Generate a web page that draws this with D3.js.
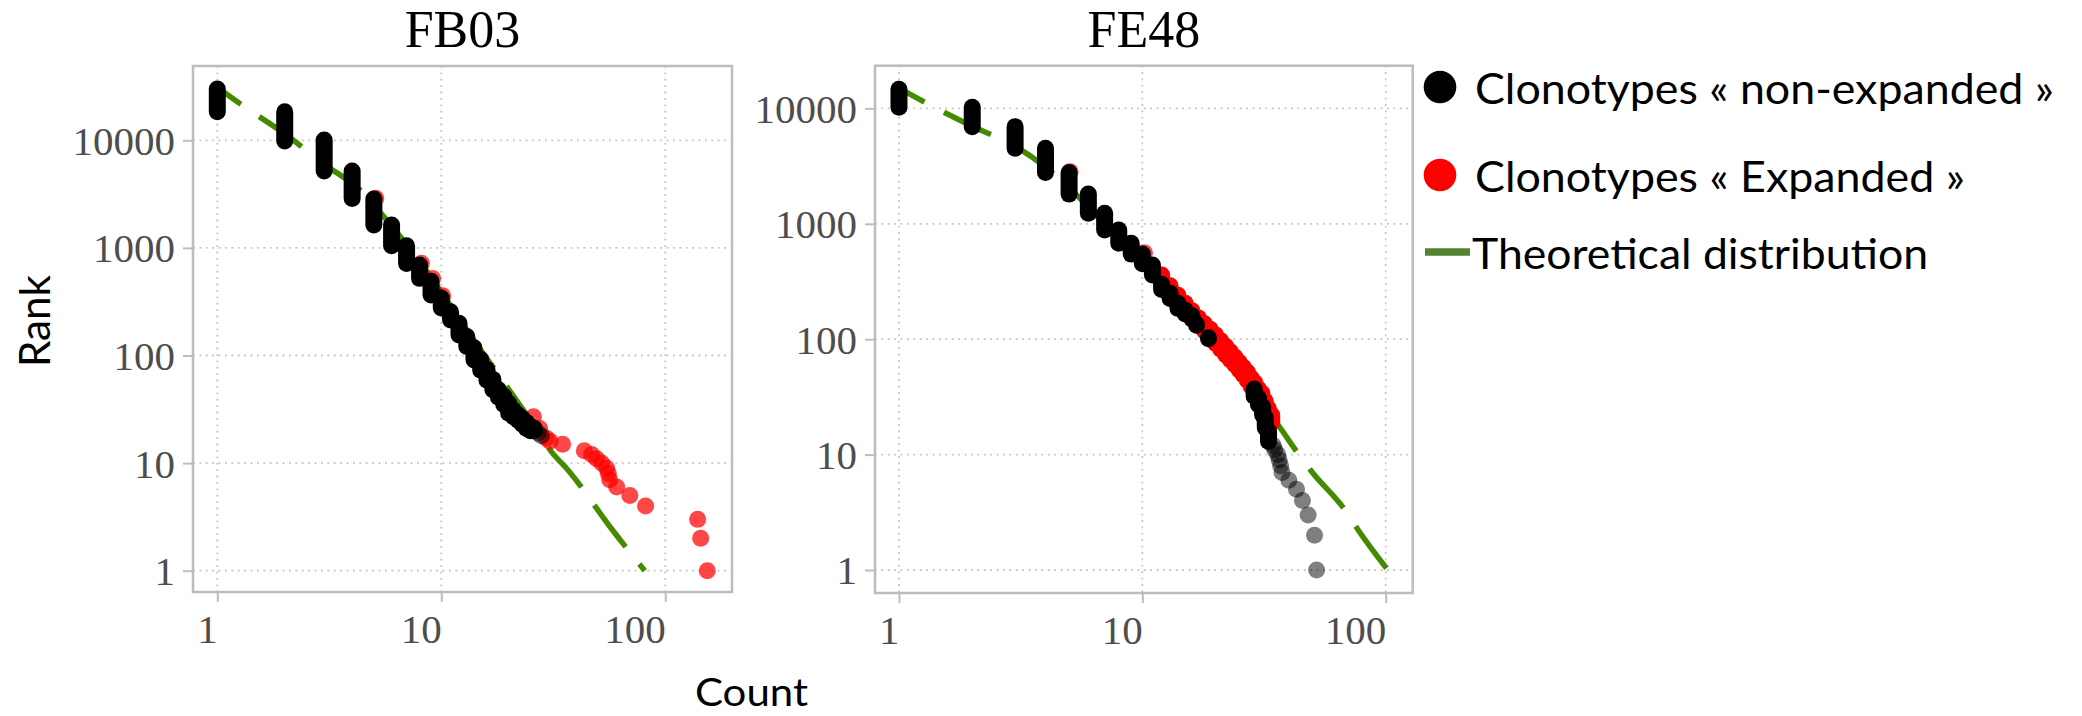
<!DOCTYPE html>
<html>
<head>
<meta charset="utf-8">
<script src="https://cdn.jsdelivr.net/npm/d3@7"></script>
<style>
  html, body { margin: 0; padding: 0; background: #ffffff; }
  svg { display: block; }
</style>
</head>
<body>
<svg id="chart" width="2082" height="716"></svg>
<script>
// ---------------- data ----------------
const panelTitles = ["FB03", "FE48"];
const xTickValues = [1, 10, 100];
const yTickValues = [1, 10, 100, 1000, 10000];
const legendLabels = ["Clonotypes « non-expanded »", "Clonotypes « Expanded »", "Theoretical distribution"];
const axisTitles = { x: "Count", y: "Rank" };

// Clonotype runs: [count, highest rank, lowest rank] (a single clonotype has both ranks equal)
const fb03NonExpanded = [
  [1, 30000, 18450], [2, 18450, 9840], [3, 10070, 5185], [4, 5185, 2880], [5, 2845, 1632],
  [6, 1632, 1048], [7, 1048, 718], [8, 693, 521], [9, 490, 365], [10, 342, 276],
  [11, 255, 214], [12, 199, 155], [13, 150, 121], [14, 118, 91], [15, 92, 73],
  [16, 74, 59], [17, 60, 48], [18, 48, 41], [19, 42, 35], [20, 36, 29],
  [21, 31, 27], [22, 28, 25], [23, 26, 23], [24, 24, 21], [25, 22, 20],
  [26, 21, 20], [27, 19, 19], [28, 18, 18]
];
const fb03Expanded = [
  [5.1, 2900, 2900], [8.15, 720, 720], [9.15, 520, 520], [10.15, 360, 360],
  [25.8, 27, 27], [27.5, 21, 21], [29.5, 17, 17], [30.6, 16, 16], [34.8, 15, 15],
  [43.5, 13, 13], [46.9, 12, 12], [49.4, 11, 11], [52, 10, 10], [54.7, 9, 9],
  [55.7, 8, 8], [56.5, 7, 7], [60.7, 6, 6], [69.5, 5, 5], [81.7, 4, 4],
  [139.5, 3, 3], [143.9, 2, 2], [154, 1, 1]
];
// Theoretical distribution: [count, rank]
const fb03Theory = [
  [1, 31000], [1.3, 21000], [2, 11500], [3, 6000], [4.3, 3500], [6, 1600], [8, 750],
  [10, 390], [14.3, 130], [18.3, 63], [25, 25], [31, 12.8], [37, 8.5], [58, 2.4], [81, 1]
];

const fe48NonExpanded = [
  [1, 14660, 10250], [2, 10250, 6950], [3, 6950, 4510], [4, 4510, 2785], [5, 2785, 1808],
  [6, 1808, 1236], [7, 1236, 884], [8, 884, 677], [9, 677, 546], [10, 546, 450],
  [11, 440, 360], [12, 300, 270], [13, 250, 225], [14, 205, 185], [15, 178, 165],
  [16, 160, 150], [16.7, 134, 132], [18.7, 103, 101],
  [28.8, 37, 32], [30, 31, 27], [31.2, 26, 22], [32, 21, 17], [33, 16, 13],
  [34.5, 12, 12], [35, 11, 11], [36, 10, 10], [36.5, 9, 9], [37, 8, 8], [37.5, 7, 7],
  [40, 6, 6], [43, 5, 5], [45.5, 4, 4], [48, 3, 3], [51, 2, 2], [52, 1, 1]
];
const fe48Expanded = [
  [5.05, 2830, 2830], [10.2, 560, 560],
  [12, 360, 300], [13, 290, 250], [14, 240, 205], [15, 205, 170], [16, 176, 150],
  [17, 153, 135], [18, 136, 118], [19, 122, 104], [20, 109, 92], [21, 97, 82],
  [22, 87, 73], [23, 78, 66], [24, 70, 60], [25, 63, 54], [26, 57, 49],
  [27, 52, 44], [28, 46, 39], [29, 42, 36], [30, 37, 33], [31, 34, 30],
  [32, 29, 26], [33, 25, 22], [34, 22, 19]
];
const fe48Theory = [
  [1, 15000], [1.32, 10900], [2, 7000], [3, 4700], [4, 3100], [5, 2050], [7, 1000],
  [10, 480], [14, 230], [18, 125], [22, 66], [24.4, 50], [30, 30], [35.7, 18.7],
  [43.1, 10.6], [49.7, 7.1], [68.1, 3.3], [77.3, 2.2], [102, 1]
];

// ---------------- layout & style ----------------
const panels = [
  { title: panelTitles[0], left: 193, top: 66, right: 732, bottom: 592,
    xDomain: [0.779, 198.6], yDomain: [0.634, 49040],
    nonExpanded: fb03NonExpanded, expanded: fb03Expanded, theory: fb03Theory },
  { title: panelTitles[1], left: 875, top: 65.7, right: 1412.7, bottom: 593,
    xDomain: [0.797, 129.1], yDomain: [0.632, 23440],
    nonExpanded: fe48NonExpanded, expanded: fe48Expanded, theory: fe48Theory }
];

const COLORS = {
  grid: "#c4c4c4", frame: "#bdbdbd", tickText: "#4d4d4d",
  theory: "#458B00", legendTheory: "#548235",
  expanded: "#ff0000", nonExpanded: "#000000"
};
const POINT_R = 8.5;
const serif = "'Liberation Serif', 'Times New Roman', serif";
const sans = "Lato, 'Open Sans', sans-serif";

const svg = d3.select("#chart");

function drawPanel(p) {
  const x = d3.scaleLog().domain(p.xDomain).range([p.left, p.right]);
  const y = d3.scaleLog().domain(p.yDomain).range([p.bottom, p.top]);
  const g = svg.append("g");

  // dotted major grid
  g.append("g").selectAll("line").data(xTickValues).join("line")
    .attr("x1", d => x(d)).attr("x2", d => x(d))
    .attr("y1", p.top).attr("y2", p.bottom)
    .attr("stroke", COLORS.grid).attr("stroke-width", 1.8)
    .attr("stroke-dasharray", "1.8,4.6");
  g.append("g").selectAll("line").data(yTickValues).join("line")
    .attr("x1", p.left).attr("x2", p.right)
    .attr("y1", d => y(d)).attr("y2", d => y(d))
    .attr("stroke", COLORS.grid).attr("stroke-width", 1.8)
    .attr("stroke-dasharray", "1.8,4.6");

  // theoretical distribution (long dashes)
  const line = d3.line().x(d => x(d[0])).y(d => y(d[1])).curve(d3.curveMonotoneX);
  g.append("path").datum(p.theory)
    .attr("d", line)
    .attr("fill", "none")
    .attr("stroke", COLORS.theory)
    .attr("stroke-width", 5.5)
    .attr("stroke-dasharray", "52,22")
    .attr("stroke-dashoffset", 23);

  // clonotypes: each run of ranks at one count is a stack of overlapping dots
  function drawRuns(data, color, singleOpacity) {
    g.append("g").selectAll("rect").data(data).join("rect")
      .attr("x", d => x(d[0]) - POINT_R)
      .attr("y", d => y(d[1]) - POINT_R)
      .attr("width", 2 * POINT_R)
      .attr("height", d => y(d[2]) - y(d[1]) + 2 * POINT_R)
      .attr("rx", POINT_R).attr("ry", POINT_R)
      .attr("fill", color)
      .attr("fill-opacity", d => d[1] === d[2] ? singleOpacity : 1);
  }
  drawRuns(p.expanded, COLORS.expanded, 0.72);
  drawRuns(p.nonExpanded, COLORS.nonExpanded, 0.5);

  // panel frame
  g.append("rect")
    .attr("x", p.left).attr("y", p.top)
    .attr("width", p.right - p.left).attr("height", p.bottom - p.top)
    .attr("fill", "none").attr("stroke", COLORS.frame).attr("stroke-width", 2.5);

  // axes
  const xAxis = d3.axisBottom(x).tickValues(xTickValues).tickFormat(d3.format("d"))
    .tickSize(10).tickPadding(12);
  const ax = g.append("g").attr("transform", `translate(0,${p.bottom})`).call(xAxis);
  ax.select(".domain").remove();
  ax.selectAll(".tick line").attr("stroke", COLORS.frame).attr("stroke-width", 2);
  ax.selectAll(".tick text")
    .attr("text-anchor", "end")
    .attr("font-family", serif).attr("font-size", 41)
    .attr("fill", COLORS.tickText);

  const yAxis = d3.axisLeft(y).tickValues(yTickValues).tickFormat(d3.format("d"))
    .tickSize(10).tickPadding(8);
  const ay = g.append("g").attr("transform", `translate(${p.left},0)`).call(yAxis);
  ay.select(".domain").remove();
  ay.selectAll(".tick line").attr("stroke", COLORS.frame).attr("stroke-width", 2);
  ay.selectAll(".tick text")
    .attr("dy", "0.34em")
    .attr("font-family", serif).attr("font-size", 41)
    .attr("fill", COLORS.tickText);

  // title
  g.append("text")
    .attr("x", (p.left + p.right) / 2).attr("y", 46.5)
    .attr("text-anchor", "middle")
    .attr("font-family", serif).attr("font-size", 52)
    .attr("fill", "#000")
    .text(p.title);
}

panels.forEach(drawPanel);

// axis titles
svg.append("text")
  .attr("x", 751.5).attr("y", 706)
  .attr("text-anchor", "middle")
  .attr("font-family", sans).attr("font-size", 39)
  .attr("textLength", 113).attr("lengthAdjust", "spacingAndGlyphs")
  .attr("fill", "#000")
  .text(axisTitles.x);
svg.append("text")
  .attr("transform", "translate(50,321) rotate(-90)")
  .attr("text-anchor", "middle")
  .attr("font-family", sans).attr("font-size", 42)
  .attr("textLength", 92).attr("lengthAdjust", "spacingAndGlyphs")
  .attr("fill", "#000")
  .text(axisTitles.y);

// legend
const legend = svg.append("g");
const legendRows = [
  { kind: "dot", color: COLORS.nonExpanded, cy: 87, baseline: 104, textX: 1475, width: 579 },
  { kind: "dot", color: COLORS.expanded, cy: 175, baseline: 192, textX: 1475, width: 490 },
  { kind: "line", color: COLORS.legendTheory, cy: 252, baseline: 269, textX: 1472, width: 456 }
];
legendRows.forEach((row, i) => {
  if (row.kind === "dot") {
    legend.append("circle")
      .attr("cx", 1440).attr("cy", row.cy).attr("r", 16.3)
      .attr("fill", row.color);
  } else {
    legend.append("line")
      .attr("x1", 1425).attr("x2", 1470)
      .attr("y1", row.cy).attr("y2", row.cy)
      .attr("stroke", row.color).attr("stroke-width", 7.7);
  }
  legend.append("text")
    .attr("x", row.textX).attr("y", row.baseline)
    .attr("font-family", sans).attr("font-size", 42)
    .attr("textLength", row.width).attr("lengthAdjust", "spacingAndGlyphs")
    .attr("fill", "#000")
    .text(legendLabels[i]);
});
</script>
</body>
</html>
